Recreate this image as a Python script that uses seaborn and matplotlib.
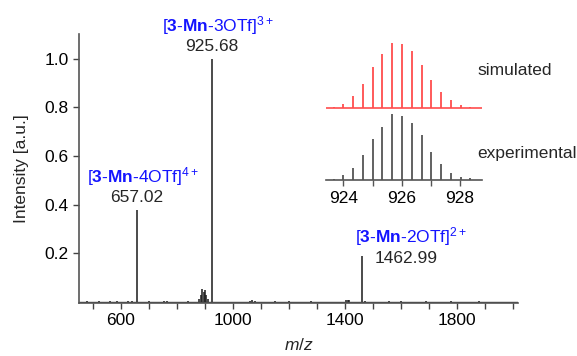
import matplotlib
matplotlib.use("Agg")
import matplotlib.pyplot as plt
import seaborn as sns
import pandas as pd

# full spectrum: peak positions (m/z) and relative intensities
spec_mz = [480, 520, 560, 585, 625, 640, 657.02, 700, 755, 765, 840,
           880, 885, 890, 895, 900, 904, 910, 925.68, 1060, 1068, 1078,
           1150, 1200, 1280, 1405, 1410, 1416, 1462.99, 1472, 1560, 1600,
           1690, 1780, 1880, 1950]
spec_int = [0.003, 0.004, 0.003, 0.004, 0.006, 0.005, 0.38, 0.003, 0.007, 0.005, 0.003,
            0.015, 0.03, 0.055, 0.04, 0.05, 0.03, 0.012, 1.0, 0.006, 0.009, 0.005,
            0.003, 0.004, 0.003, 0.008, 0.01, 0.009, 0.19, 0.005, 0.004, 0.003,
            0.004, 0.004, 0.003, 0.002]

# isotope pattern of [3-Mn-3OTf]3+
iso_mz = [923.67, 924.0, 924.33, 924.67, 925.0, 925.34, 925.68, 926.01,
          926.35, 926.68, 927.02, 927.35, 927.69, 928.02, 928.36]
iso_sim = [0.015, 0.07, 0.19, 0.37, 0.62, 0.83, 1.0, 0.98, 0.87, 0.66,
           0.43, 0.25, 0.12, 0.05, 0.02]
iso_exp = [0.02, 0.08, 0.19, 0.38, 0.62, 0.80, 1.0, 0.98, 0.86, 0.68,
           0.42, 0.24, 0.11, 0.05, 0.025]

labels = [
    (657.02, 0.38, r"[$\mathbf{3}$-$\mathbf{Mn}$-4OTf]$^{4+}$", "657.02"),
    (925.68, 1.0, r"[$\mathbf{3}$-$\mathbf{Mn}$-3OTf]$^{3+}$", "925.68"),
    (1462.99, 0.19, r"[$\mathbf{3}$-$\mathbf{Mn}$-2OTf]$^{2+}$", "1462.99"),
]

FS = 12.5

sns.set_theme(style="ticks")
plt.rcParams["font.family"] = ["Liberation Sans", "DejaVu Sans"]
plt.rcParams["mathtext.fontset"] = "custom"
plt.rcParams["mathtext.rm"] = "Liberation Sans"
plt.rcParams["mathtext.bf"] = "Liberation Sans:bold"
plt.rcParams["mathtext.it"] = "Liberation Sans:italic"

fig = plt.figure(figsize=(5.77, 3.56), dpi=100)
ax = fig.add_axes([0.137, 0.149, 0.761, 0.755])

spec = pd.DataFrame({"mz": spec_mz, "intensity": spec_int})
ax.vlines(spec["mz"], 0, spec["intensity"], color="#1a1a1a", lw=1.1)
ax.axhline(0.002, color="#333333", lw=1.0)

ax.set_xlim(450, 2020)
ax.set_ylim(-0.003, 1.1)
ax.set_xticks([600, 1000, 1400, 1800])
ax.set_xticks(range(500, 2001, 100), minor=True)
ax.set_yticks([0.2, 0.4, 0.6, 0.8, 1.0])
ax.tick_params(axis="both", which="both", labelsize=FS, colors="#444444",
               labelcolor="black", length=4, width=1)
for s in ["left", "bottom"]:
    ax.spines[s].set_color("#555555")
    ax.spines[s].set_linewidth(1.2)
sns.despine(ax=ax)
ax.set_xlabel("$m$/$z$", fontsize=FS, labelpad=6)
ax.set_ylabel("Intensity [a.u.]", fontsize=FS, labelpad=11)

for mz, h, blue, num in labels:
    if mz > 1400:
        ax.text(mz + 45, h - 0.01, num, fontsize=FS, ha="left", va="center")
        ax.text(mz - 25, h + 0.08, blue, fontsize=FS, ha="left", va="center", color="#1414ff")
    else:
        ax.text(mz, h + 0.05, num, fontsize=FS, ha="center", va="center")
        ax.text(mz + 20, h + 0.135, blue, fontsize=FS, ha="center", va="center", color="#1414ff")

# inset: isotope pattern
ins = fig.add_axes([0.565, 0.494, 0.27, 0.385])
iso = pd.DataFrame({"mz": iso_mz, "sim": iso_sim, "exp": iso_exp})
offset = 1.09
ins.vlines(iso["mz"], offset, offset + iso["sim"], color="#ff4d4d", lw=1.3)
ins.axhline(offset, color="#ff4d4d", lw=1.2)
ins.vlines(iso["mz"], 0, iso["exp"], color="#555555", lw=1.3)
ins.set_xlim(923.4, 928.75)
ins.set_ylim(0, 2.08)
ins.set_xticks([924, 926, 928])
ins.set_xticks([925, 927], minor=True)
ins.set_yticks([])
ins.tick_params(axis="x", which="both", labelsize=FS, colors="#555555",
                labelcolor="black", length=4, width=1)
for s in ["left", "top", "right"]:
    ins.spines[s].set_visible(False)
ins.spines["bottom"].set_color("#555555")
ins.spines["bottom"].set_linewidth(1.2)
ins.patch.set_alpha(0)

fig.text(0.827, 0.803, "simulated", fontsize=FS, va="center")
fig.text(0.827, 0.570, "experimental", fontsize=FS, va="center")

fig.savefig("out.png", dpi=100)
